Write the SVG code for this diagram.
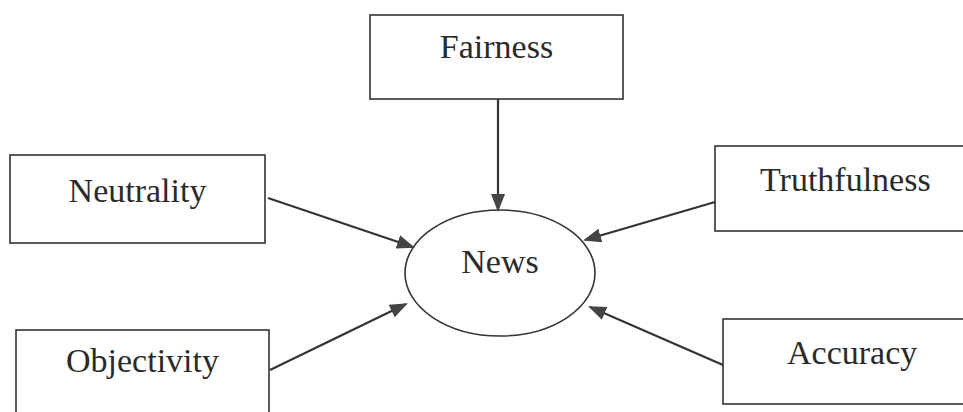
<svg xmlns="http://www.w3.org/2000/svg" width="963" height="412" viewBox="0 0 963 412">
  <style>
    .box { fill: #fff; stroke: #333; stroke-width: 1.6; }
    .lbl { font-family: "Liberation Serif", "Times New Roman", serif; font-size: 34px; fill: #2a2a2a; }
    .conn { stroke: #333; stroke-width: 2.2; fill: none; }
  </style>
  <defs>
    <marker id="arr" markerUnits="userSpaceOnUse" markerWidth="18" markerHeight="14" refX="16" refY="7" orient="auto">
      <path d="M0,0 L18,7 L0,14 z" fill="#444"/>
    </marker>
  </defs>
  <rect width="963" height="412" fill="#fff"/>

  <g id="fairness">
    <rect class="box" x="370" y="15" width="253" height="84"/>
    <text class="lbl" x="496.5" y="58" text-anchor="middle">Fairness</text>
  </g>
  <g id="neutrality">
    <rect class="box" x="10" y="155" width="255" height="88"/>
    <text class="lbl" x="137.5" y="202" text-anchor="middle">Neutrality</text>
  </g>
  <g id="truthfulness">
    <rect class="box" x="715" y="146" width="260" height="85"/>
    <text class="lbl" x="760" y="191">Truthfulness</text>
  </g>
  <g id="objectivity">
    <rect class="box" x="16" y="330" width="253" height="100"/>
    <text class="lbl" x="142.5" y="372" text-anchor="middle">Objectivity</text>
  </g>
  <g id="accuracy">
    <rect class="box" x="723" y="319" width="260" height="85"/>
    <text class="lbl" x="787" y="364">Accuracy</text>
  </g>
  <g id="news">
    <ellipse class="box" cx="500" cy="273" rx="95" ry="63"/>
    <text class="lbl" x="500" y="273" text-anchor="middle" font-size="33">News</text>
  </g>

  <g id="connectors">
    <line class="conn" x1="498" y1="99" x2="498" y2="210" marker-end="url(#arr)"/>
    <line class="conn" x1="268" y1="198" x2="413" y2="247" marker-end="url(#arr)"/>
    <line class="conn" x1="715" y1="202" x2="585" y2="240" marker-end="url(#arr)"/>
    <line class="conn" x1="270" y1="370" x2="406" y2="304" marker-end="url(#arr)"/>
    <line class="conn" x1="723" y1="365" x2="590" y2="307" marker-end="url(#arr)"/>
  </g>
</svg>
